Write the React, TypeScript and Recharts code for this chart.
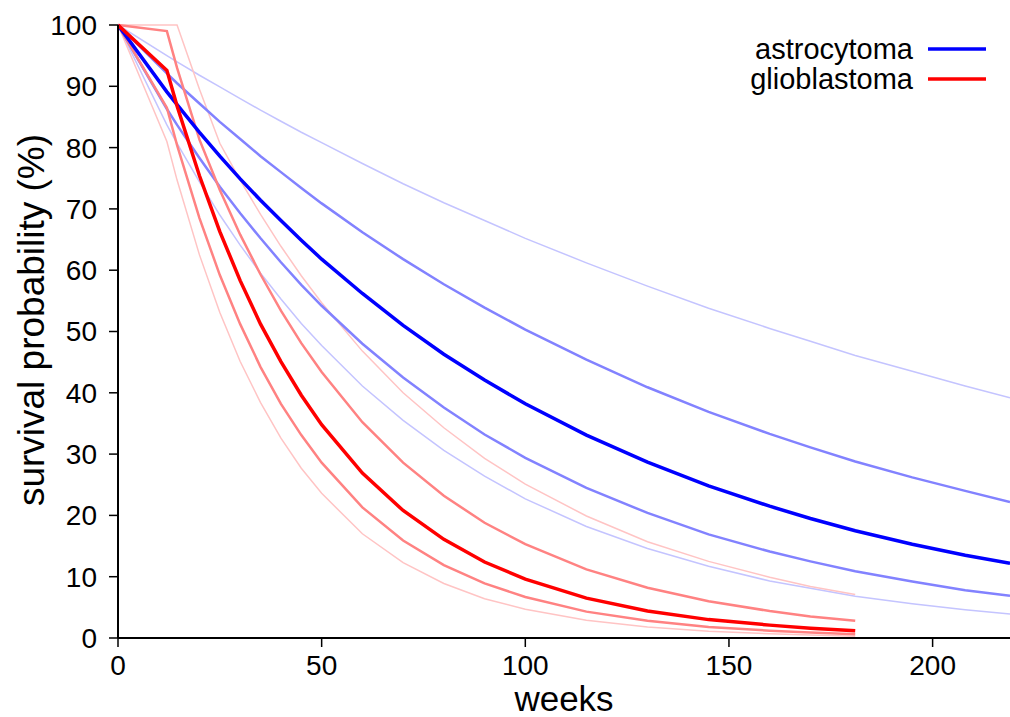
import React from "react";
import { LineChart, Line, XAxis, YAxis, Legend } from "recharts";

const weeks = [0, 12, 14.5, 20, 25, 30, 35, 40, 45, 50, 60, 70, 80, 90, 100, 115, 130, 145, 160, 170, 181, 195, 208, 219];

// astrocytoma: main curve plus two bands on each side
const astroUpperLight = [100, 95.0, 94.0, 91.8, 89.9, 88.0, 86.1, 84.3, 82.5, 80.8, 77.4, 74.1, 71.0, 68.1, 65.2, 61.2, 57.4, 53.8, 50.5, 48.4, 46.1, 43.5, 41.1, 39.2];
const astroUpperMid = [100, 92.1, 90.5, 87.2, 84.2, 81.4, 78.6, 76.0, 73.4, 70.9, 66.2, 61.8, 57.7, 53.9, 50.3, 45.4, 40.9, 36.9, 33.3, 31.1, 28.8, 26.2, 24.0, 22.2];
const astroMain = [100, 89.1, 87.0, 82.5, 78.6, 74.9, 71.4, 68.1, 64.9, 61.8, 56.2, 51.0, 46.3, 42.1, 38.2, 33.1, 28.7, 24.8, 21.5, 19.5, 17.5, 15.3, 13.5, 12.2];
const astroLowerMid = [100, 86.3, 83.7, 78.3, 73.6, 69.3, 65.2, 61.3, 57.6, 54.2, 48.0, 42.5, 37.6, 33.2, 29.4, 24.5, 20.4, 16.9, 14.1, 12.5, 10.9, 9.2, 7.8, 6.9];
const astroLowerLight = [100, 83.7, 80.7, 74.4, 69.0, 64.1, 59.5, 55.3, 51.3, 47.7, 41.1, 35.5, 30.6, 26.4, 22.7, 18.2, 14.6, 11.7, 9.3, 8.1, 6.8, 5.6, 4.6, 3.9];

// glioblastoma: curves stop at 181 weeks
const glioUpperLight = [100, 100, 100, 89.5, 80.7, 74.7, 69.1, 63.9, 59.1, 54.7, 46.8, 40.0, 34.3, 29.3, 25.1, 19.9, 15.7, 12.5, 9.9, 8.4, 7.1, null, null, null];
const glioUpperMid = [100, 99, 93, 81.3, 73.1, 65.8, 59.3, 53.4, 48.1, 43.4, 35.2, 28.6, 23.2, 18.8, 15.3, 11.2, 8.2, 6.0, 4.4, 3.5, 2.8, null, null, null];
const glioMain = [100, 92.6, 86.8, 75.4, 66.3, 58.3, 51.2, 45.1, 39.6, 34.8, 26.9, 20.8, 16.1, 12.4, 9.6, 6.5, 4.4, 3.0, 2.1, 1.6, 1.2, null, null, null];
const glioLowerMid = [100, 86.5, 80.4, 68.5, 59.2, 51.2, 44.2, 38.2, 33.1, 28.6, 21.3, 15.9, 11.9, 8.9, 6.7, 4.3, 2.8, 1.8, 1.2, 0.9, 0.6, null, null, null];
const glioLowerLight = [100, 81, 74.7, 62.5, 53.1, 45.1, 38.4, 32.6, 27.7, 23.6, 17.0, 12.3, 8.9, 6.4, 4.7, 2.9, 1.8, 1.1, 0.7, 0.5, 0.3, null, null, null];

const xTicks = [0, 50, 100, 150, 200];
const yTicks = [0, 10, 20, 30, 40, 50, 60, 70, 80, 90, 100];

const data = weeks.map((w, i) => ({
  week: w,
  aUL: astroUpperLight[i],
  aUM: astroUpperMid[i],
  aM: astroMain[i],
  aLM: astroLowerMid[i],
  aLL: astroLowerLight[i],
  gUL: glioUpperLight[i],
  gUM: glioUpperMid[i],
  gM: glioMain[i],
  gLM: glioLowerMid[i],
  gLL: glioLowerLight[i],
}));

const FONT = '"Liberation Sans", Arial, Helvetica, sans-serif';

const lines = [
  { key: "aUL", color: "#c4c4ff", width: 1.5 },
  { key: "aLL", color: "#c4c4ff", width: 1.5 },
  { key: "gUL", color: "#ffc4c4", width: 1.5 },
  { key: "gLL", color: "#ffc4c4", width: 1.5 },
  { key: "aUM", color: "#8282ff", width: 2.5 },
  { key: "aLM", color: "#8282ff", width: 2.5 },
  { key: "gUM", color: "#ff8282", width: 2.5 },
  { key: "gLM", color: "#ff8282", width: 2.5 },
  { key: "aM", color: "#0000ff", width: 3.5 },
  { key: "gM", color: "#ff0000", width: 3.5 },
];

const legendItems = [
  { name: "astrocytoma", color: "#0000ff" },
  { name: "glioblastoma", color: "#ff0000" },
];

function renderLegend() {
  return (
    <div style={{ fontFamily: FONT }}>
      {legendItems.map((item) => (
        <div
          key={item.name}
          style={{
            display: "flex",
            alignItems: "center",
            justifyContent: "flex-end",
            height: 30,
          }}
        >
          <span style={{ fontSize: 29, lineHeight: "30px", color: "#000" }}>
            {item.name}
          </span>
          <svg width={58} height={6} style={{ marginLeft: 15 }}>
            <line x1={0} y1={3} x2={58} y2={3} stroke={item.color} strokeWidth={3.5} />
          </svg>
        </div>
      ))}
    </div>
  );
}

export default function App() {
  return (
    <div style={{ width: 1010, height: 717, background: "#fff" }}>
      <style>{`body{margin:0;background:#fff}`}</style>
      <LineChart
        width={1010}
        height={717}
        data={data}
        margin={{ top: 25, right: 0, left: 0, bottom: 0 }}
      >
        <XAxis
          dataKey="week"
          type="number"
          domain={[0, 219]}
          ticks={xTicks}
          allowDataOverflow
          height={79}
          tickSize={9}
          tickMargin={8}
          axisLine={{ stroke: "#000", strokeWidth: 2 }}
          tickLine={{ stroke: "#000", strokeWidth: 1.5 }}
          tick={{ fill: "#000", fontSize: 28, fontFamily: FONT }}
          label={() => (
            <text
              x={564}
              y={698}
              textAnchor="middle"
              dominantBaseline="central"
              fontSize={35}
              fontFamily={FONT}
              fill="#000"
            >
              weeks
            </text>
          )}
        />
        <YAxis
          type="number"
          domain={[0, 100]}
          ticks={yTicks}
          width={118}
          tickSize={9}
          tickMargin={12}
          axisLine={{ stroke: "#000", strokeWidth: 2 }}
          tickLine={{ stroke: "#000", strokeWidth: 1.5 }}
          tick={{ fill: "#000", fontSize: 28, fontFamily: FONT }}
          label={() => (
            <text
              x={31}
              y={320}
              transform="rotate(-90 31 320)"
              textAnchor="middle"
              dominantBaseline="central"
              fontSize={37}
              fontFamily={FONT}
              fill="#000"
            >
              survival probability (%)
            </text>
          )}
        />
        <Legend
          layout="horizontal"
          verticalAlign="middle"
          align="center"
          content={renderLegend}
          wrapperStyle={{ top: 34, right: 24, left: "auto", width: 300 }}
        />
        {lines.map((l) => (
          <Line
            key={l.key}
            dataKey={l.key}
            type="linear"
            stroke={l.color}
            strokeWidth={l.width}
            dot={false}
            activeDot={false}
            connectNulls={false}
            isAnimationActive={false}
            legendType="none"
          />
        ))}
      </LineChart>
    </div>
  );
}
